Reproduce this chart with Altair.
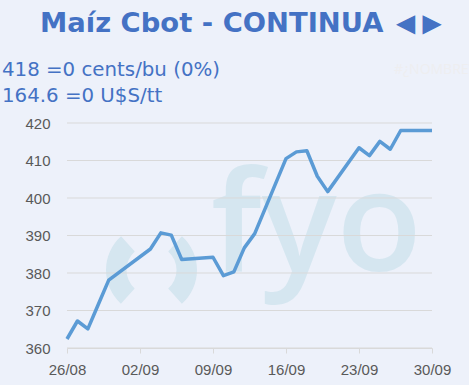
import altair as alt
import pandas as pd

# ---- data ----
dates = ["2019-08-26", "2019-08-27", "2019-08-28", "2019-08-29", "2019-08-30",
         "2019-09-03", "2019-09-04", "2019-09-05", "2019-09-06",
         "2019-09-09", "2019-09-10", "2019-09-11", "2019-09-12", "2019-09-13",
         "2019-09-16", "2019-09-17", "2019-09-18", "2019-09-19", "2019-09-20",
         "2019-09-23", "2019-09-24", "2019-09-25", "2019-09-26", "2019-09-27",
         "2019-09-30"]
values = [362.4, 367.2, 365.1, 371.6, 378.1,
          386.4, 390.7, 390.1, 383.6,
          384.2, 379.3, 380.3, 386.7, 390.5,
          410.5, 412.3, 412.6, 405.8, 401.7,
          413.4, 411.3, 415.1, 413.0, 418.0,
          418.0]
y_ticks = [360, 370, 380, 390, 400, 410, 420]
x_tick_dates = [(2019, 8, 26), (2019, 9, 2), (2019, 9, 9), (2019, 9, 16), (2019, 9, 23), (2019, 9, 30)]

title_text = "Maíz Cbot - CONTINUA"
arrow_left_text = "◄"
arrow_right_text = "►"
line1_text = "418 =0 cents/bu (0%)"
line2_text = "164.6 =0 U$S/tt"
err_text = "#¿NOMBRE?"
watermark_text = "fyo"

df = pd.DataFrame({"date": [d + "T00:00:00" for d in dates], "value": values})
grid_df = pd.DataFrame({"v": y_ticks})
one = pd.DataFrame({"k": [0]})

BLUE_T = "#4472C4"
LINE = "#5B9BD5"
WM = "#D5E6F0"
GRID = "#D9D9D9"
LABEL = "#595959"

PL, PT = 67, 123  # plot origin in page pixels

x_scale = alt.Scale(domain=[alt.DateTime(year=2019, month=8, date=26),
                            alt.DateTime(year=2019, month=9, date=30)])
y_scale = alt.Scale(domain=[360, 420], nice=False, zero=False)

single = alt.Chart(one)

# watermark ring "( )"
arc_left = single.mark_arc(color=WM, theta=3.88, theta2=5.55, radius=45.5, radius2=25).encode(
    x=alt.value(151.5 - PL), y=alt.value(270 - PT))
arc_right = single.mark_arc(color=WM, theta=0.733, theta2=2.41, radius=45.5, radius2=25).encode(
    x=alt.value(151.5 - PL), y=alt.value(270 - PT))

wm_text = single.mark_text(text=watermark_text, font="Open Sans", fontWeight=600, fontSize=140,
                           color=WM, align="left", baseline="alphabetic").encode(
    x=alt.value(211 - PL), y=alt.value(271 - PT))

y_axis = alt.Axis(values=y_ticks, domain=False, ticks=False, grid=False,
                  labelColor=LABEL, labelFont="Liberation Sans", labelFontSize=15,
                  labelPadding=17, labelOverlap=False, labelFlush=False)

grid = alt.Chart(grid_df).mark_rule(color=GRID, strokeWidth=1).encode(
    y=alt.Y("v:Q", scale=y_scale, title=None, axis=y_axis))

line = alt.Chart(df).mark_line(color=LINE, strokeWidth=3.5, strokeJoin="round").encode(
    x=alt.X("date:T", scale=x_scale, title=None,
            axis=alt.Axis(format="%d/%m",
                          values=[alt.DateTime(year=a, month=b, date=c) for a, b, c in x_tick_dates],
                          domainColor=GRID, tickColor=GRID, tickSize=5, grid=False,
                          labelColor=LABEL, labelFont="Liberation Sans", labelFontSize=15,
                          labelPadding=9, labelFlush=False, labelOverlap=False)),
    y=alt.Y("value:Q", scale=y_scale, title=None, axis=y_axis),
)

title = single.mark_text(text=title_text, font="DejaVu Sans", fontWeight="bold", fontSize=27.4,
                         color=BLUE_T, align="left", baseline="alphabetic").encode(
    x=alt.value(40 - PL), y=alt.value(32 - PT))
arrow_l = single.mark_text(text=arrow_left_text, font="Noto Sans CJK JP", fontSize=32,
                           color=BLUE_T, align="center", baseline="alphabetic").encode(
    x=alt.value(405.5 - PL), y=alt.value(33.6 - PT))
arrow_r = single.mark_text(text=arrow_right_text, font="Noto Sans CJK JP", fontSize=32,
                           color=BLUE_T, align="center", baseline="alphabetic").encode(
    x=alt.value(432 - PL), y=alt.value(33.6 - PT))
sub1 = single.mark_text(text=line1_text, font="DejaVu Sans", fontSize=19.8, color=BLUE_T,
                        align="left", baseline="alphabetic").encode(
    x=alt.value(2 - PL), y=alt.value(76 - PT))
sub2 = single.mark_text(text=line2_text, font="DejaVu Sans", fontSize=19.8, color=BLUE_T,
                        align="left", baseline="alphabetic").encode(
    x=alt.value(2 - PL), y=alt.value(101.7 - PT))
err = single.mark_text(text=err_text, font="Open Sans", fontSize=14, color="#EEEEF0",
                       align="left", baseline="alphabetic").encode(
    x=alt.value(394 - PL), y=alt.value(74 - PT))

chart = alt.layer(arc_left, arc_right, wm_text, grid, line, title, arrow_l, arrow_r,
                  sub1, sub2, err).properties(
    width=365, height=225,
    autosize=alt.AutoSizeParams(type="none"),
    padding={"left": PL, "top": PT, "right": 469 - PL - 365, "bottom": 385 - PT - 225},
    background="#EDF1FA",
).configure_view(stroke=None)

chart.save("out.html", embed_options={"renderer": "svg", "actions": False})
